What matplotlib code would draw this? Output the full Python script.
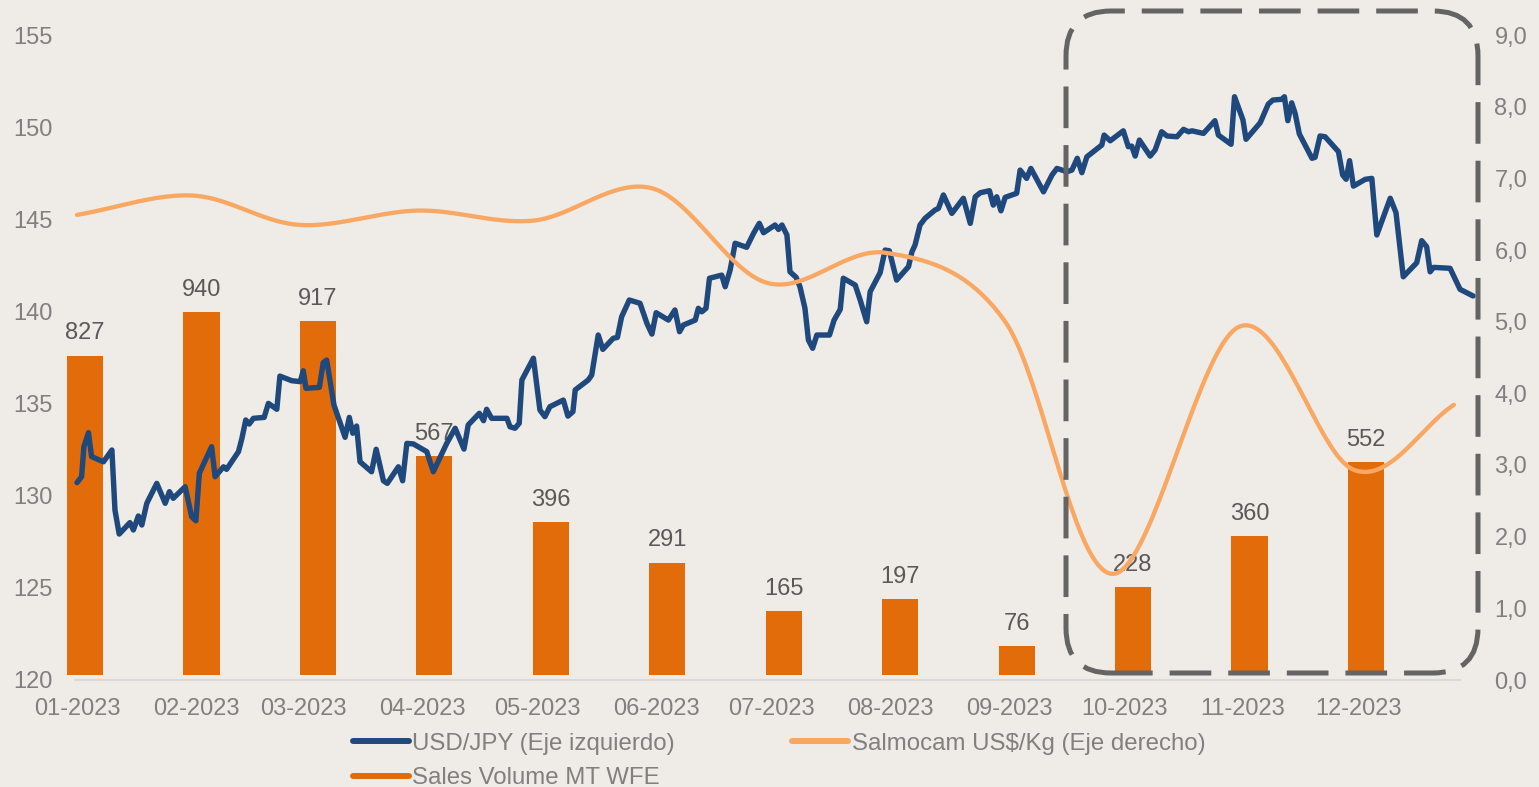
import numpy as np
import matplotlib
matplotlib.use("Agg")
import matplotlib.pyplot as plt
import matplotlib.transforms as mtransforms
from matplotlib.patches import FancyBboxPatch
from matplotlib.lines import Line2D

plt.rcParams['font.family'] = ['Liberation Sans', 'DejaVu Sans']
plt.rcParams['lines.scale_dashes'] = False

# ---------------- data ----------------
month_labels = ["01-2023", "02-2023", "03-2023", "04-2023", "05-2023", "06-2023",
                "07-2023", "08-2023", "09-2023", "10-2023", "11-2023", "12-2023"]
month_start_day = [0, 31, 59, 90, 120, 151, 181, 212, 243, 273, 304, 334]

sales_volume = [827, 940, 917, 567, 396, 291, 165, 197, 76, 228, 360, 552]

# Salmocam price (US$/Kg), day of year 2023 (0 = Jan 1)
salmocam_day = [0, 30, 58, 89, 119, 150, 180, 211, 242, 270, 303, 333, 359]
salmocam_val = [6.49, 6.76, 6.35, 6.55, 6.41, 6.86, 5.54, 5.96, 5.00, 1.48, 4.93, 2.93, 3.84]

# USD/JPY, day of year 2023 (0 = Jan 1)
usd_day = [0.0, 1.2, 1.8, 3.0, 3.8, 6.9, 9.1, 9.9, 11.0, 13.8, 14.7, 16.0, 16.9, 18.2, 20.8,
           23.0, 24.1, 25.1, 28.2, 29.9, 31.0, 31.9, 35.1, 36.0, 38.2, 39.0, 42.1, 43.0, 44.0,
           44.9, 46.0, 48.8, 49.9, 52.1, 52.9, 56.0, 58.2, 59.0, 59.7, 63.2, 64.2, 65.1, 67.0,
           69.9, 71.0, 71.9, 72.9, 73.8, 76.8, 78.0, 79.9, 80.9, 83.8, 84.9, 86.0, 87.7, 91.2,
           92.9, 96.4, 98.6, 100.9, 102.0, 104.9, 106.0, 106.8, 108.1, 112.1, 112.9, 114.2,
           115.3, 116.0, 119.0, 120.7, 122.0, 123.3, 126.8, 128.0, 129.3, 129.9, 133.3, 134.2,
           135.9, 137.1, 139.8, 140.9, 142.0, 144.0, 146.8, 148.6, 149.9, 151.0, 154.2, 155.9,
           157.1, 158.1, 161.2, 162.0, 162.9, 164.0, 164.9, 168.1, 169.0, 170.3, 171.6, 174.6,
           176.4, 177.9, 179.0, 182.0, 182.9, 183.8, 185.1, 185.9, 187.5, 188.5, 189.8, 190.7,
           191.8, 192.9, 196.2, 197.4, 199.0, 199.8, 202.9, 204.2, 205.9, 206.8, 209.4, 210.7,
           211.8, 213.7, 216.8, 217.7, 218.5, 219.8, 221.1, 223.7, 224.6, 225.9, 228.1, 231.1,
           232.9, 234.2, 235.5, 237.9, 238.9, 239.8, 240.9, 242.0, 245.0, 245.9, 247.6, 248.7,
           252.0, 254.2, 255.5, 258.1, 259.4, 260.8, 262.0, 263.3, 267.2, 267.8, 269.4, 272.8,
           274.1, 275.0, 275.9, 277.0, 279.8, 281.1, 282.8, 284.2, 286.8, 288.5, 289.8, 290.7,
           293.7, 296.7, 297.6, 300.9, 301.8, 304.0, 304.8, 308.5, 310.6, 311.8, 314.1, 314.8,
           315.7, 316.7, 317.6, 318.7, 322.0, 322.8, 324.1, 325.4, 328.9, 330.0, 330.9, 331.8,
           332.8, 335.9, 337.6, 338.9, 342.4, 343.9, 345.8, 349.3, 350.6, 351.9, 352.8, 353.7,
           358.0, 360.6, 364.0]
usd_val = [130.71, 131.03, 132.66, 133.42, 132.12, 131.84, 132.48, 129.22, 127.92, 128.54,
           128.14, 128.90, 128.41, 129.59, 130.67, 129.59, 130.22, 129.86, 130.49, 128.86,
           128.64, 131.22, 132.66, 131.03, 131.57, 131.43, 132.39, 133.11, 134.11, 133.89,
           134.20, 134.25, 135.01, 134.69, 136.49, 136.24, 136.19, 136.78, 135.83, 135.88,
           137.22, 137.36, 134.92, 133.17, 134.25, 133.39, 133.78, 131.84, 131.30, 132.52,
           130.81, 130.67, 131.57, 130.81, 132.84, 132.81, 132.39, 131.30, 132.84, 133.66,
           132.53, 133.84, 134.47, 134.07, 134.69, 134.20, 134.20, 133.74, 133.66, 133.93,
           136.28, 137.46, 134.65, 134.29, 134.83, 135.19, 134.32, 134.56, 135.74, 136.28,
           136.55, 138.72, 137.94, 138.54, 138.59, 139.71, 140.62, 140.44, 139.35, 138.77,
           139.93, 139.53, 140.08, 138.90, 139.26, 139.53, 140.17, 139.98, 140.17, 141.80,
           141.97, 141.34, 142.25, 143.70, 143.48, 144.24, 144.78, 144.27, 144.69, 144.45,
           144.69, 144.15, 142.15, 141.85, 141.34, 140.17, 138.45, 138.00, 138.72, 138.72,
           139.53, 140.11, 141.80, 141.43, 140.62, 139.44, 141.07, 142.10, 143.33, 143.29,
           141.70, 142.43, 143.24, 143.60, 144.69, 145.05, 145.50, 145.59, 146.32, 145.32,
           146.14, 144.78, 146.22, 146.44, 146.55, 145.77, 146.22, 145.46, 146.19, 146.41,
           147.67, 147.22, 147.76, 146.49, 147.40, 147.76, 147.58, 147.67, 148.31, 147.53,
           148.39, 149.03, 149.57, 149.26, 149.80, 148.94, 148.97, 148.43, 149.30, 148.43,
           148.76, 149.75, 149.52, 149.48, 149.88, 149.75, 149.80, 149.66, 150.35, 149.57,
           149.07, 151.65, 150.39, 149.34, 150.24, 151.25, 151.47, 151.51, 151.65, 150.35,
           151.32, 150.75, 149.63, 148.31, 148.36, 149.52, 149.48, 148.67, 147.40, 147.17,
           148.18, 146.80, 147.17, 147.22, 144.15, 146.14, 145.36, 141.88, 142.64, 143.84,
           143.51, 142.15, 142.39, 142.34, 141.20, 140.84]

left_ticks = [120, 125, 130, 135, 140, 145, 150, 155]
right_ticks = [0, 1, 2, 3, 4, 5, 6, 7, 8, 9]

# ---------------- style ----------------
BG = "#EFEBE7"
BLUE = "#1F497D"
LIGHT_ORANGE = "#F8A862"
DARK_ORANGE = "#E36C0A"
TICK_GRAY = "#808080"
LABEL_GRAY = "#595959"
FS = 17

W, H = 1539, 787
fig = plt.figure(figsize=(W / 100, H / 100), dpi=100, facecolor=BG)

rect = [75 / W, 1 - 680 / H, (1475 - 75) / W, (680 - 35) / H]
xlim = (-0.52, 364.5)

# bars axis (hidden scale)
ax_bar = fig.add_axes(rect)
ax_bar.set_facecolor(BG)
bar_pos = 2.1 + np.arange(len(sales_volume)) * 30.36
bars = ax_bar.bar(bar_pos, sales_volume, width=9.4, color=DARK_ORANGE, zorder=2,
                  clip_on=False)
ax_bar.set_ylim(-13, 1657)
ax_bar.set_xlim(*xlim)
for x, v in zip(bar_pos, sales_volume):
    ax_bar.annotate(f"{v}", (x, v), xytext=(0, 8), textcoords="offset points",
                    ha="center", va="bottom", fontsize=FS, color=LABEL_GRAY)
ax_bar.set_yticks([])
for s in ["top", "right", "left"]:
    ax_bar.spines[s].set_visible(False)
ax_bar.spines["bottom"].set_color("#D9D9D9")
ax_bar.spines["bottom"].set_linewidth(1.5)
ax_bar.spines["bottom"].set_bounds(-0.52, 360.6)
ax_bar.set_xticks(month_start_day)
ax_bar.set_xticklabels(month_labels)
ax_bar.tick_params(axis="x", length=0, pad=13, labelsize=FS, labelcolor=TICK_GRAY)

# USD/JPY axis (left)
ax_usd = fig.add_axes(rect, sharex=ax_bar)
ax_usd.patch.set_visible(False)
ax_usd.plot(usd_day, usd_val, color=BLUE, lw=3.9, solid_joinstyle="round",
            solid_capstyle="round", clip_on=False)
ax_usd.set_ylim(120, 155)
ax_usd.set_yticks(left_ticks)
ax_usd.set_yticklabels([str(t) for t in left_ticks])
ax_usd.tick_params(axis="y", length=0, pad=16, labelsize=FS, labelcolor=TICK_GRAY)
ax_usd.tick_params(axis="x", bottom=False, labelbottom=False)
for s in ax_usd.spines.values():
    s.set_visible(False)

# Salmocam axis (right)
ax_sal = fig.add_axes(rect, sharex=ax_bar)
ax_sal.patch.set_visible(False)

def catmull_rom(xs, ys, n=40):
    P = np.column_stack([xs, ys]).astype(float)
    P = np.vstack([P[0] - (P[1] - P[0]), P, P[-1] + (P[-1] - P[-2])])
    out = []
    for i in range(1, len(P) - 2):
        p0, p1, p2, p3 = P[i - 1], P[i], P[i + 1], P[i + 2]
        m1 = (p2 - p0) / 2
        m2 = (p3 - p1) / 2
        t = np.linspace(0, 1, n, endpoint=False)[:, None]
        h00 = 2 * t**3 - 3 * t**2 + 1
        h10 = t**3 - 2 * t**2 + t
        h01 = -2 * t**3 + 3 * t**2
        h11 = t**3 - t**2
        out.append(h00 * p1 + h10 * m1 + h01 * p2 + h11 * m2)
    out.append(P[-2][None, :])
    return np.vstack(out)

sx = 3.835
sy = 71.67
sm = catmull_rom(np.array(salmocam_day) * sx, np.array(salmocam_val) * sy)
ax_sal.plot(sm[:, 0] / sx, sm[:, 1] / sy, color=LIGHT_ORANGE, lw=3.1,
            solid_capstyle="round", clip_on=False)
ax_sal.set_ylim(0, 9)
ax_sal.set_yticks(right_ticks)
ax_sal.set_yticklabels([f"{t},0" for t in right_ticks])
ax_sal.yaxis.tick_right()
ax_sal.tick_params(axis="y", length=0, pad=14, labelsize=FS, labelcolor=TICK_GRAY)
ax_sal.tick_params(axis="x", bottom=False, labelbottom=False)
for s in ax_sal.spines.values():
    s.set_visible(False)
ax_sal.set_xlim(*xlim)

# dashed rounded highlight box (pixel coordinates)
box = FancyBboxPatch((1066, H - 673), 412, 662,
                     boxstyle="round,pad=0,rounding_size=45",
                     transform=mtransforms.IdentityTransform(),
                     fill=False, edgecolor="#646464", linewidth=3.6,
                     linestyle=(0, (30, 12.2)), zorder=10)
fig.add_artist(box)

# legend
handles = [
    Line2D([], [], color=BLUE, lw=4.3, solid_capstyle="round"),
    Line2D([], [], color=DARK_ORANGE, lw=4.3, solid_capstyle="round"),
    Line2D([], [], color=LIGHT_ORANGE, lw=4.3, solid_capstyle="round"),
]
labels = ["USD/JPY (Eje izquierdo)", "Sales Volume MT WFE", "Salmocam US$/Kg (Eje derecho)"]
leg = fig.legend(handles, labels, ncol=2, loc="center left",
                 bbox_to_anchor=(353 / W, 1 - 761 / H), frameon=False,
                 fontsize=FS + 0.3, labelcolor=TICK_GRAY, handlelength=2.33,
                 handletextpad=0.13, columnspacing=4.9, labelspacing=0.52,
                 borderpad=0, borderaxespad=0)

fig.savefig("out.png", dpi=100, facecolor=BG)
